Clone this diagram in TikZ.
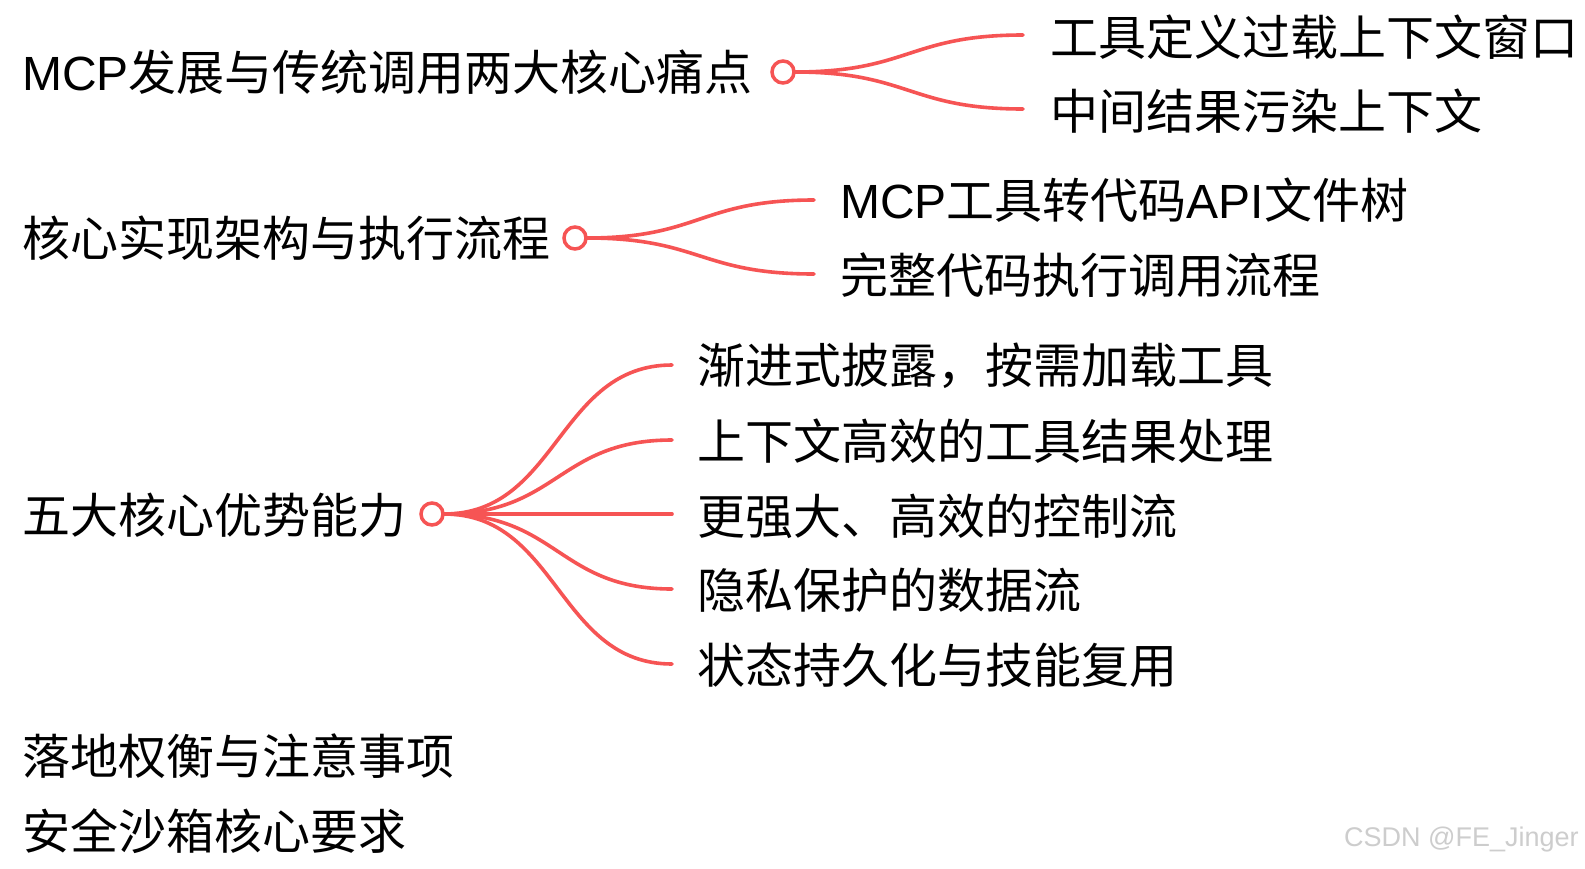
\documentclass[tikz,border=0pt]{standalone}
\usepackage{fontspec}
\setmainfont{Noto Sans CJK SC}
\newfontfamily\latfont{Liberation Sans}
\newfontfamily\wmfont{Liberation Sans}
\newcommand{\lat}[1]{{\latfont #1}}
\definecolor{mmred}{RGB}{246,84,84}
\definecolor{wmgray}{RGB}{205,205,205}
\begin{document}
\begin{tikzpicture}[x=1pt,y=-1pt,
  txt/.style={anchor=west,inner sep=0pt,font=\fontsize{48}{56}\selectfont,text=black},
  dot/.style={circle,draw=mmred,line width=3.5pt,fill=white,minimum size=22pt,inner sep=0pt},
  link/.style={draw=mmred,line width=3.6pt,line cap=round}]
\useasboundingbox[fill=white] (0,0) rectangle (1585,868);
% root 1
\node[txt] (r1) at (22,72) {\lat{MCP}发展与传统调用两大核心痛点};
\coordinate (e11) at (1023,35);
\coordinate (e12) at (1023,109);
\draw[link] (795,72) .. controls (909,72) and (909,35) .. (e11);
\draw[link] (795,72) .. controls (909,72) and (909,109) .. (e12);
\node[dot] (c1) at (783,72) {};
\node[txt] (t11) at (1050,37) {工具定义过载上下文窗口};
\node[txt] (t12) at (1050,111) {中间结果污染上下文};
% root 2
\node[txt] (r2) at (22,238) {核心实现架构与执行流程};
\coordinate (e21) at (814,200);
\coordinate (e22) at (814,274);
\draw[link] (587,238) .. controls (700,238) and (700,200) .. (e21);
\draw[link] (587,238) .. controls (700,238) and (700,274) .. (e22);
\node[dot] (c2) at (575,238) {};
\node[txt] (t21) at (840,200) {\lat{MCP}工具转代码\lat{API}文件树};
\node[txt] (t22) at (840,275) {完整代码执行调用流程};
% root 3
\node[txt] (r3) at (22,515) {五大核心优势能力};
\coordinate (e31) at (672,365);
\coordinate (e32) at (672,440);
\coordinate (e33) at (672,514);
\coordinate (e34) at (672,589);
\coordinate (e35) at (672,664);
\foreach \e/\y in {e31/365,e32/440,e34/589,e35/664}
  \draw[link] (444,514) .. controls (558,514) and (558,\y) .. (\e);
\draw[link] (444,514) -- (e33);
\node[dot] (c3) at (432,514) {};
\node[txt] (t31) at (697,366) {渐进式披露，按需加载工具};
\node[txt] (t32) at (697,441) {上下文高效的工具结果处理};
\node[txt] (t33) at (697,516) {更强大、高效的控制流};
\node[txt] (t34) at (697,590) {隐私保护的数据流};
\node[txt] (t35) at (697,665) {状态持久化与技能复用};
% roots 4,5
\node[txt] (r4) at (22,756) {落地权衡与注意事项};
\node[txt] (r5) at (22,831) {安全沙箱核心要求};
% watermark
\node[anchor=west,inner sep=0pt,font=\wmfont\fontsize{27}{32}\selectfont,text=wmgray] (wm) at (1344,840) {CSDN @FE\_Jinger};
\end{tikzpicture}
\end{document}
